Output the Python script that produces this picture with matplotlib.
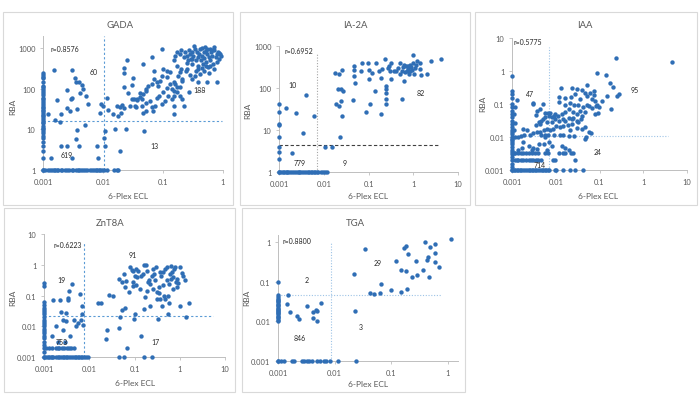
import matplotlib
matplotlib.use("Agg")
import matplotlib.pyplot as plt
from matplotlib.patches import Rectangle
from matplotlib.ticker import FixedLocator, NullLocator

plt.rcParams['font.family'] = ['Lato', 'DejaVu Sans']

# ---------------- GADA ----------------
gada_col_y = [1, 2, 3, 4, 5, 6, 7, 8, 9, 10, 11, 12, 14, 15, 17, 19, 21, 23, 25, 28, 30, 33, 36, 40,
              45, 50, 55, 60, 70, 80, 90, 100, 110, 120, 150, 180, 200, 220, 250]
gada_row_x = [0.001, 0.0011, 0.0012, 0.0013, 0.0014, 0.0015, 0.0016, 0.0017, 0.0018, 0.002, 0.0021,
              0.0023, 0.0025, 0.0027, 0.003, 0.0032, 0.0035, 0.0038, 0.004, 0.0043, 0.0046, 0.005,
              0.0055, 0.006, 0.0065, 0.007, 0.0075, 0.008, 0.0085, 0.009, 0.0095, 0.0105, 0.0115,
              0.0155, 0.0168, 0.018]
gada_x = [0.00134, 0.002, 0.0025, 0.0031, 0.0036, 0.0037, 0.004, 0.005, 0.0078, 0.0084, 0.0107, 0.0105,
          0.011, 0.016, 0.019, 0.024, 0.048,
          0.0015, 0.0031, 0.0034, 0.0035, 0.004, 0.0045, 0.0047, 0.0053, 0.0025, 0.003, 0.0029,
          0.0017, 0.0012, 0.0016, 0.0019, 0.002, 0.0025, 0.0028, 0.0037, 0.0041, 0.0057, 0.0092,
          0.0089, 0.0100, 0.0118, 0.0122, 0.0148, 0.017, 0.018, 0.02, 0.022, 0.022, 0.022, 0.025,
          0.022, 0.026, 0.03, 0.032, 0.034, 0.037, 0.041, 0.047, 0.053, 0.065, 0.07, 0.084, 0.095,
          0.1, 0.115, 0.15, 0.17, 0.19, 0.21, 0.25, 0.3, 0.39, 0.54,
          0.132, 0.115, 0.095, 0.088, 0.079, 0.072, 0.065, 0.057, 0.052, 0.047, 0.041, 0.037, 0.033,
          0.036, 0.044, 0.053, 0.06, 0.065, 0.079, 0.087, 0.1, 0.115, 0.132, 0.14, 0.15, 0.123,
          0.14, 0.15, 0.155, 0.17, 0.19, 0.21, 0.22, 0.107, 0.095, 0.074, 0.068, 0.053, 0.047,
          0.044, 0.031, 0.028, 0.021, 0.019,
          0.16, 0.17, 0.19, 0.2, 0.22, 0.23, 0.25, 0.26, 0.27, 0.28, 0.29, 0.3, 0.31, 0.32, 0.34,
          0.36, 0.37, 0.38, 0.39, 0.4, 0.42, 0.43, 0.45, 0.47, 0.48, 0.49, 0.51, 0.53, 0.55, 0.56,
          0.58, 0.6, 0.61, 0.63, 0.65, 0.68, 0.7, 0.75, 0.78, 0.82, 0.85, 0.9, 0.94, 0.79, 0.7,
          0.58, 0.49, 0.42, 0.34, 0.28, 0.24, 0.2, 0.17, 0.15, 0.18, 0.21, 0.3, 0.38, 0.45, 0.53,
          0.61, 0.79, 0.54, 0.27, 0.19, 0.16, 0.15, 0.33, 0.44, 0.52, 0.66, 0.72, 0.86, 0.36, 0.25]
gada_y = [2, 4, 4, 2, 5.8, 9.9, 4, 13, 4, 2, 4, 6, 9, 10, 3, 10, 9,
          290, 295, 180, 150, 145, 125, 100, 68, 95, 58, 56,
          54, 24, 17, 15, 24, 33, 29, 31, 78, 42, 42,
          25, 37, 60, 30, 24, 37, 22, 25, 34, 320, 245, 510,
          110, 80, 125, 180, 38, 56, 78, 410, 100, 600, 280, 120, 950,
          310, 200, 145, 110, 255, 160, 310, 540, 145, 950,
          255, 280, 212, 160, 145, 175, 130, 115, 90, 75, 62, 54, 56,
          35, 38, 44, 51, 35, 58, 68, 82, 103, 130, 100, 68, 68,
          56, 37, 24, 82, 68, 56, 38, 51, 42, 38, 29, 29, 26,
          56, 56, 38, 40, 35,
          660, 800, 720, 880, 600, 800, 660, 500, 880, 720, 550, 410, 800, 660, 960,
          500, 800, 600, 370, 720, 960, 500, 660, 410, 800, 580, 1050, 450, 720, 340,
          600, 960, 500, 800, 660, 410, 880, 600, 720, 800, 550, 720, 630, 450, 310,
          250, 280, 230, 210, 220, 280, 310, 370, 500, 212, 175, 175, 310, 320, 370,
          370, 145, 148, 82, 110, 130, 90, 1150, 1000, 850, 900, 1100, 780, 280, 430]

# ---------------- IA-2A ----------------
ia2a_col_y = [1, 2, 3, 4, 7, 13, 14, 27, 42]
ia2a_row_x = [0.001, 0.0011, 0.0012, 0.0013, 0.0014, 0.0015, 0.0016, 0.0018, 0.002, 0.0022, 0.0024,
              0.0026, 0.0028, 0.003, 0.0033, 0.0036, 0.004, 0.0044, 0.0048, 0.0052, 0.0056, 0.006,
              0.0065, 0.007, 0.0076, 0.0085, 0.0095, 0.0105, 0.012]
ia2a_x = [0.00146, 0.0024, 0.0035, 0.0041, 0.006, 0.002,
          0.0105, 0.015, 0.023, 0.0176, 0.022, 0.025, 0.019, 0.022, 0.021, 0.024, 0.027, 0.024,
          0.026, 0.045, 0.048, 0.048, 0.048, 0.049, 0.07, 0.068, 0.095, 0.1, 0.1, 0.09, 0.108,
          0.14, 0.15, 0.17, 0.19, 0.19, 0.2, 0.23, 0.24, 0.24, 0.24, 0.24, 0.25, 0.29, 0.3, 0.32,
          0.32, 0.42, 0.45, 0.5, 0.55, 0.6, 0.63, 0.57, 0.63, 0.72, 0.75, 0.78, 0.85, 0.93, 1.0,
          1.0, 1.05, 1.1, 1.2, 1.45, 1.45, 1.5, 2.0, 2.5, 4.2, 0.5, 0.12, 0.27, 0.38, 0.65,
          0.8, 0.9, 1.15, 0.7, 0.85]
ia2a_y = [34, 26, 8.6, 68, 21, 2.9,
          4, 4, 7, 225, 210, 265, 41, 37, 96, 93, 85, 49,
          21, 53, 335, 270, 192, 133, 385, 250, 385, 275, 160, 27, 41,
          85, 400, 255, 175, 24, 280, 480, 96, 78, 55, 41, 110, 330, 250, 395,
          160, 250, 305, 400, 250, 320, 355, 55, 150, 250, 290, 330, 350, 270, 600,
          400, 210, 300, 440, 280, 400, 200, 210, 440, 490, 210, 230, 300, 260, 240,
          220, 310, 350, 330, 260]

# ---------------- IAA ----------------
iaa_col_y = [0.001, 0.0012, 0.0015, 0.002, 0.0025, 0.003, 0.0035, 0.004, 0.005, 0.006, 0.007,
             0.008, 0.009, 0.01, 0.012, 0.014, 0.016, 0.02, 0.025, 0.03, 0.04, 0.05, 0.06, 0.08,
             0.1, 0.15, 0.2, 0.25, 0.7]
iaa_row1_x = [0.001, 0.0011, 0.0012, 0.0013, 0.0014, 0.0015, 0.0016, 0.0018, 0.002, 0.0022, 0.0024,
              0.0026, 0.0028, 0.003, 0.0033, 0.0036, 0.004, 0.0044, 0.0048, 0.0052, 0.0056, 0.006,
              0.0065, 0.007, 0.0095, 0.0103, 0.015, 0.021, 0.028, 0.042]
iaa_row2_x = [0.00119, 0.0013, 0.0014, 0.0016, 0.0018, 0.0021, 0.0024, 0.0027, 0.0031, 0.0036,
              0.004, 0.0045, 0.0085, 0.0098, 0.028]
iaa_row3_x = [0.0011, 0.0012, 0.0014, 0.0016, 0.0018, 0.0021, 0.0024, 0.0028, 0.0033, 0.004,
              0.0058, 0.0066, 0.012, 0.015, 0.0165, 0.0227]
iaa_x = [4.5, 0.24, 0.088, 0.14, 0.17, 0.2, 0.275, 0.25, 0.15, 0.18, 0.052, 0.04, 0.046, 0.052,
         0.062, 0.074, 0.074, 0.068, 0.077, 0.089, 0.098, 0.114, 0.094, 0.08, 0.083, 0.052, 0.058,
         0.068, 0.036, 0.03, 0.023, 0.0134, 0.028, 0.022, 0.0165, 0.0117, 0.012, 0.0166, 0.021,
         0.026, 0.033, 0.041, 0.036, 0.046, 0.039, 0.03, 0.025, 0.02, 0.0166, 0.014, 0.011,
         0.0094, 0.009, 0.008, 0.0069, 0.0058, 0.0051, 0.0047, 0.0041, 0.0037, 0.0031, 0.0051,
         0.0035, 0.0044, 0.0063, 0.0082, 0.0098, 0.012, 0.0144, 0.0166, 0.0198, 0.023, 0.025,
         0.03, 0.033, 0.038, 0.024, 0.019, 0.015, 0.0128, 0.0101, 0.0085, 0.0075, 0.0063, 0.0053,
         0.0044, 0.0037, 0.0031, 0.0026, 0.0022, 0.0018, 0.0016, 0.0014, 0.0019, 0.0047, 0.0056,
         0.0066, 0.0058, 0.009, 0.0128, 0.015, 0.0205, 0.0255, 0.021, 0.03, 0.039, 0.047, 0.058,
         0.065, 0.049, 0.047, 0.0139, 0.0166, 0.0205, 0.0243, 0.0082, 0.0069, 0.0053, 0.0037,
         0.0029, 0.0024, 0.0018, 0.0017, 0.0031, 0.0041, 0.0063, 0.0014, 0.003, 0.0044, 0.0058,
         0.0066, 0.0075, 0.0035, 0.0012, 0.0011, 0.0012, 0.0011, 0.0012, 0.0013]
iaa_y = [1.9, 2.5, 0.85, 0.76, 0.42, 0.32, 0.2, 0.17, 0.18, 0.07, 0.38, 0.27, 0.21, 0.18,
         0.21, 0.24, 0.19, 0.14, 0.12, 0.095, 0.08, 0.12, 0.055, 0.05, 0.088, 0.093, 0.085,
         0.074, 0.14, 0.28, 0.3, 0.3, 0.2, 0.16, 0.15, 0.16, 0.112, 0.093, 0.107,
         0.093, 0.093, 0.08, 0.063, 0.056, 0.044, 0.05, 0.056, 0.07, 0.056, 0.05, 0.042,
         0.05, 0.042, 0.039, 0.042, 0.039, 0.035, 0.031, 0.028, 0.063, 0.1, 0.1,
         0.023, 0.025, 0.028, 0.029, 0.034, 0.031, 0.035, 0.031, 0.037, 0.034, 0.037,
         0.031, 0.028, 0.034, 0.025, 0.023, 0.021, 0.02, 0.021, 0.018, 0.016, 0.017, 0.016,
         0.014, 0.0145, 0.013, 0.0115, 0.016, 0.017, 0.011, 0.01, 0.0115, 0.0115, 0.0115,
         0.0115, 0.01, 0.0115, 0.0115, 0.0115, 0.0105, 0.0105, 0.016, 0.019, 0.017, 0.02, 0.0145,
         0.013, 0.01, 0.009, 0.0052, 0.0045, 0.0039, 0.0033, 0.0055, 0.0069, 0.0062, 0.0043,
         0.0041, 0.0055, 0.0072, 0.0048, 0.0048, 0.0062, 0.0041, 0.0041, 0.105, 0.07, 0.052,
         0.052, 0.052, 0.047, 0.083, 0.05, 0.026, 0.0163, 0.01, 0.133]

# ---------------- ZnT8A ----------------
znt_col_y = [0.001, 0.0015, 0.002, 0.0025, 0.003, 0.004, 0.005, 0.006, 0.007, 0.008, 0.01, 0.012,
             0.014, 0.016, 0.02, 0.025, 0.03, 0.035, 0.04, 0.05, 0.06, 0.2, 0.25]
znt_row1_x = [0.001, 0.0011, 0.0012, 0.0013, 0.0014, 0.0015, 0.0016, 0.0018, 0.002, 0.0022,
              0.0024, 0.0026, 0.0028, 0.003, 0.0033, 0.0036, 0.004, 0.0044, 0.0048, 0.0052,
              0.0056, 0.006, 0.0065, 0.007, 0.0075, 0.0085, 0.0095, 0.046, 0.059, 0.16, 0.24]
znt_row2_x = [0.0011, 0.0013, 0.0015, 0.0018, 0.002, 0.0022, 0.0025, 0.0028, 0.0032, 0.0036,
              0.004, 0.0045]
znt_x = [0.0015, 0.0018, 0.0024, 0.0026, 0.0016, 0.0023, 0.003, 0.0026, 0.0031, 0.0034, 0.0035,
         0.0034, 0.0037, 0.0042, 0.0045, 0.005, 0.0057, 0.0062, 0.007, 0.0069, 0.0067, 0.0071,
         0.0029, 0.002,
         0.0157, 0.018, 0.024, 0.025, 0.028, 0.034, 0.046, 0.047, 0.054, 0.061, 0.07, 0.045,
         0.054, 0.059, 0.061, 0.066, 0.076, 0.079, 0.086, 0.093, 0.093, 0.093, 0.097, 0.105,
         0.1, 0.114, 0.11, 0.13, 0.142, 0.142, 0.155, 0.163, 0.177, 0.16, 0.185, 0.19, 0.21,
         0.22, 0.225, 0.24, 0.25, 0.26, 0.27, 0.28, 0.31, 0.32, 0.33, 0.35, 0.36, 0.375, 0.39,
         0.41, 0.43, 0.45, 0.47, 0.48, 0.51, 0.53, 0.54, 0.55, 0.57, 0.6, 0.63, 0.66, 0.7,
         0.72, 0.75, 0.78, 0.81, 0.85, 0.88, 1.0, 1.03, 1.1, 1.2, 1.3, 1.4, 1.6, 0.12, 0.2,
         0.3, 0.42, 0.65, 0.9, 0.17, 0.35, 0.58, 0.11]
znt_y = [0.005, 0.01, 0.029, 0.0155, 0.07, 0.07, 0.027, 0.0073, 0.015, 0.07, 0.145,
         0.083, 0.005, 0.23, 0.0155, 0.01, 0.013, 0.108, 0.047, 0.025, 0.0155, 0.011,
         0.003, 0.003,
         0.058, 0.058, 0.0039, 0.0077, 0.105, 0.093, 0.009, 0.02, 0.035, 0.039, 0.002, 0.35,
         0.28, 0.5, 0.19, 0.3, 0.13, 0.83, 0.7, 0.65, 0.27, 0.2, 0.017, 0.025,
         0.44, 0.4, 0.22, 0.16, 0.005, 0.42, 0.5, 1.0, 0.96, 0.037, 0.65, 0.14, 0.31,
         0.24, 0.045, 0.42, 0.71, 0.16, 0.5, 0.32, 0.13, 0.075, 0.017, 0.19, 0.57, 0.077, 0.44,
         0.047, 0.22, 0.1, 0.71, 0.077, 0.82, 0.32, 0.025, 0.1, 0.058, 0.5, 0.35, 0.6, 0.16,
         0.4, 0.74, 0.82, 0.27, 0.35, 0.19, 0.82, 0.045, 0.55, 0.42, 0.32, 0.02, 0.055, 0.62,
         0.27, 0.85, 0.6, 0.9, 0.25, 0.09, 0.12, 0.23, 0.75]

# ---------------- TGA ----------------
tga_col_y = [0.001, 0.01, 0.011, 0.012, 0.013, 0.014, 0.015, 0.016, 0.017, 0.018, 0.019, 0.02,
             0.022, 0.024, 0.026, 0.028, 0.03, 0.032, 0.034, 0.036, 0.04, 0.047, 0.098]
tga_row_x = [0.001, 0.00115, 0.00126, 0.0018, 0.0019, 0.0026, 0.0029, 0.0032, 0.0035, 0.004,
             0.0049, 0.0054, 0.0065, 0.0071, 0.0082, 0.0114, 0.024]
tga_x = [0.0015, 0.00144, 0.0016, 0.0022, 0.0023, 0.0032, 0.0041, 0.0047, 0.0049, 0.0041, 0.0049,
         0.0057, 0.0225, 0.0216, 0.034, 0.0425, 0.049, 0.064, 0.066, 0.1, 0.12, 0.146, 0.15,
         0.17, 0.185, 0.18, 0.19, 0.2, 0.23, 0.275, 0.28, 0.36, 0.39, 0.43, 0.44, 0.46, 0.48,
         0.58, 0.6, 0.6, 0.68, 1.15]
tga_y = [0.047, 0.028, 0.0168, 0.0133, 0.0112, 0.0243, 0.0172, 0.0197, 0.0179, 0.0124, 0.01,
         0.0295, 0.0179, 0.16, 0.65, 0.052, 0.05, 0.052, 0.089, 0.06, 0.33, 0.2, 0.055,
         0.7, 0.8, 0.19, 0.065, 0.5, 0.13, 0.33, 0.15, 0.2, 1.0, 0.36, 0.42, 0.13, 0.76,
         0.9, 0.31, 0.54, 0.23, 1.2]

# quadrant counts / annotations
panels = [
    dict(name='GADA', col_y=gada_col_y, row_x=[gada_row_x], row_y=[1], x=gada_x, y=gada_y,
         xlim=(0.001, 1), ylim=(1, 2000), xt=[0.001, 0.01, 0.1, 1], xtl=['0.001', '0.01', '0.1', '1'],
         yt=[1, 10, 100, 1000], ytl=['1', '10', '100', '1000'],
         vline=(0.0102, 1, 2000), hline=(16.5, 0.001, 0.95),
         vstyle=('#5B9BD5', (0, (2, 2))), hstyle=('#5B9BD5', (0, (2, 2))),
         r=('r=0.8576', 0.00134, 1000),
         counts=[('60', 0.0059, 270), ('188', 0.316, 95), ('619', 0.002, 2.4), ('13', 0.061, 4.0)],
         box=(3, 13, 233, 206), pos=(43, 223, 37, 171), title=(120, 26), xl=(128, 197), yl=(13, 107)),
    dict(name='IA-2A', col_y=ia2a_col_y, row_x=[ia2a_row_x], row_y=[1], x=ia2a_x, y=ia2a_y,
         xlim=(0.001, 10), ylim=(1, 1000), xt=[0.001, 0.01, 0.1, 1, 10],
         xtl=['0.001', '0.01', '0.1', '1', '10'],
         yt=[1, 10, 100, 1000], ytl=['1', '10', '100', '1000'],
         vline=(0.0072, 1, 700), hline=(4.4, 0.001, 3.8),
         vstyle=('#A6A6A6', (0, (1, 1.5))), hstyle=('#404040', (0, (3, 2))),
         r=('r=0.6952', 0.00134, 800),
         counts=[('10', 0.00165, 122), ('82', 1.17, 77), ('779', 0.0021, 1.67), ('9', 0.026, 1.67)],
         box=(240, 13, 470, 206), pos=(279, 458, 47, 173), title=(355, 26), xl=(368, 197), yl=(248, 111)),
    dict(name='IAA', col_y=iaa_col_y, row_x=[iaa_row1_x, iaa_row2_x, iaa_row3_x],
         row_y=[0.001, 0.002, 0.0032], x=iaa_x, y=iaa_y,
         xlim=(0.001, 10), ylim=(0.001, 10), xt=[0.001, 0.01, 0.1, 1, 10],
         xtl=['0.001', '0.01', '0.1', '1', '10'],
         yt=[0.001, 0.01, 0.1, 1, 10], ytl=['0.001', '0.01', '0.1', '1', '10'],
         vline=(0.0069, 0.001, 5.5), hline=(0.011, 0.001, 3.7),
         vstyle=('#9DC3E6', (0, (1, 1.5))), hstyle=('#9DC3E6', (0, (1, 1.5))),
         r=('r=0.5775', 0.00108, 7.8),
         counts=[('47', 0.0021, 0.21), ('95', 0.52, 0.27), ('24', 0.074, 0.0037), ('714', 0.0032, 0.0015)],
         box=(475, 13, 697, 206), pos=(512, 687, 39, 171), title=(585, 26), xl=(598, 197), yl=(483, 104)),
    dict(name='ZnT8A', col_y=znt_col_y, row_x=[znt_row1_x, znt_row2_x], row_y=[0.001, 0.002],
         x=znt_x, y=znt_y,
         xlim=(0.001, 10), ylim=(0.001, 10), xt=[0.001, 0.01, 0.1, 1, 10],
         xtl=['0.001', '0.01', '0.1', '1', '10'],
         yt=[0.001, 0.01, 0.1, 1, 10], ytl=['0.001', '0.01', '0.1', '1', '10'],
         vline=(0.0077, 0.001, 5.0), hline=(0.0214, 0.001, 5.5),
         vstyle=('#5B9BD5', (0, (2, 2))), hstyle=('#5B9BD5', (0, (2, 2))),
         r=('r=0.6223', 0.0016, 4.5),
         counts=[('91', 0.076, 2.1), ('19', 0.00195, 0.32), ('753', 0.0018, 0.0031), ('17', 0.24, 0.0031)],
         box=(4, 209, 235, 393), pos=(44, 225, 235, 358), title=(110, 223), xl=(135, 384), yl=(13, 298)),
    dict(name='TGA', col_y=tga_col_y, row_x=[tga_row_x], row_y=[0.001], x=tga_x, y=tga_y,
         xlim=(0.001, 1.5), ylim=(0.001, 1.5), xt=[0.001, 0.01, 0.1, 1],
         xtl=['0.001', '0.01', '0.1', '1'],
         yt=[0.001, 0.01, 0.1, 1], ytl=['0.001', '0.01', '0.1', '1'],
         vline=(0.0085, 0.001, 0.94), hline=(0.047, 0.001, 0.76),
         vstyle=('#9DC3E6', (0, (1, 1.5))), hstyle=('#9DC3E6', (0, (1, 1.5))),
         r=('r=0.8800', 0.00122, 1.07),
         counts=[('2', 0.0029, 0.112), ('29', 0.049, 0.30), ('846', 0.0019, 0.0038), ('3', 0.027, 0.0076)],
         box=(242, 209, 465, 393), pos=(278, 458, 236, 362), title=(355, 223), xl=(368, 385), yl=(247, 298)),
]

W, H = 699, 406
fig = plt.figure(figsize=(W / 100, H / 100), dpi=100)
fig.patch.set_facecolor('white')

DOT = '#2F6EB5'
GREY = '#595959'
AXC = '#BFBFBF'

for p in panels:
    bx0, by0, bx1, by1 = p['box']
    fig.patches.append(Rectangle((bx0 / W, 1 - by1 / H), (bx1 - bx0) / W, (by1 - by0) / H,
                                 transform=fig.transFigure, fill=False, edgecolor='#D9D9D9',
                                 linewidth=0.8, zorder=0))
    l, r, t, b = p['pos']
    ax = fig.add_axes([l / W, 1 - b / H, (r - l) / W, (b - t) / H])
    ax.set_facecolor('none')
    ax.set_xscale('log')
    ax.set_yscale('log')
    ax.set_xlim(*p['xlim'])
    ax.set_ylim(*p['ylim'])
    for s in ('top', 'right'):
        ax.spines[s].set_visible(False)
    for s in ('left', 'bottom'):
        ax.spines[s].set_color(AXC)
        ax.spines[s].set_linewidth(0.7)
    ax.xaxis.set_major_locator(FixedLocator(p['xt']))
    ax.yaxis.set_major_locator(FixedLocator(p['yt']))
    ax.xaxis.set_minor_locator(NullLocator())
    ax.yaxis.set_minor_locator(NullLocator())
    ax.set_xticklabels(p['xtl'])
    ax.set_yticklabels(p['ytl'])
    ax.tick_params(axis='both', length=2.5, width=0.6, color=AXC, labelsize=5.4,
                   labelcolor=GREY, pad=3)

    # dashed threshold lines
    vx, vy0, vy1 = p['vline']
    ax.plot([vx, vx], [vy0, vy1], color=p['vstyle'][0], linestyle=p['vstyle'][1],
            linewidth=0.8, zorder=1, clip_on=False)
    hy, hx0, hx1 = p['hline']
    ax.plot([hx0, hx1], [hy, hy], color=p['hstyle'][0], linestyle=p['hstyle'][1],
            linewidth=0.8, zorder=1, clip_on=False)

    # points
    xmin = p['xlim'][0]
    ax.scatter([xmin] * len(p['col_y']), p['col_y'], s=10, color=DOT, linewidths=0,
               zorder=3, clip_on=False)
    for rx, ry in zip(p['row_x'], p['row_y']):
        ax.scatter(rx, [ry] * len(rx), s=10, color=DOT, linewidths=0, zorder=3, clip_on=False)
    ax.scatter(p['x'], p['y'], s=10, color=DOT, linewidths=0, zorder=3, clip_on=False)

    # annotations
    txt, tx, ty = p['r']
    ax.text(tx, ty, txt, fontsize=5.0, color='#262626', va='center', ha='left')
    for txt, tx, ty in p['counts']:
        ax.text(tx, ty, txt, fontsize=5.0, color='#262626', va='center', ha='left')

    fig.text(p['title'][0] / W, 1 - p['title'][1] / H, p['name'], fontsize=6.8, color=GREY,
             ha='center', va='center')
    fig.text(p['xl'][0] / W, 1 - p['xl'][1] / H, '6-Plex ECL', fontsize=6.0, color=GREY,
             ha='center', va='center')
    fig.text(p['yl'][0] / W, 1 - p['yl'][1] / H, 'RBA', fontsize=6.0, color=GREY,
             ha='center', va='center', rotation=90)

fig.savefig('out.png', dpi=100, facecolor='white')
